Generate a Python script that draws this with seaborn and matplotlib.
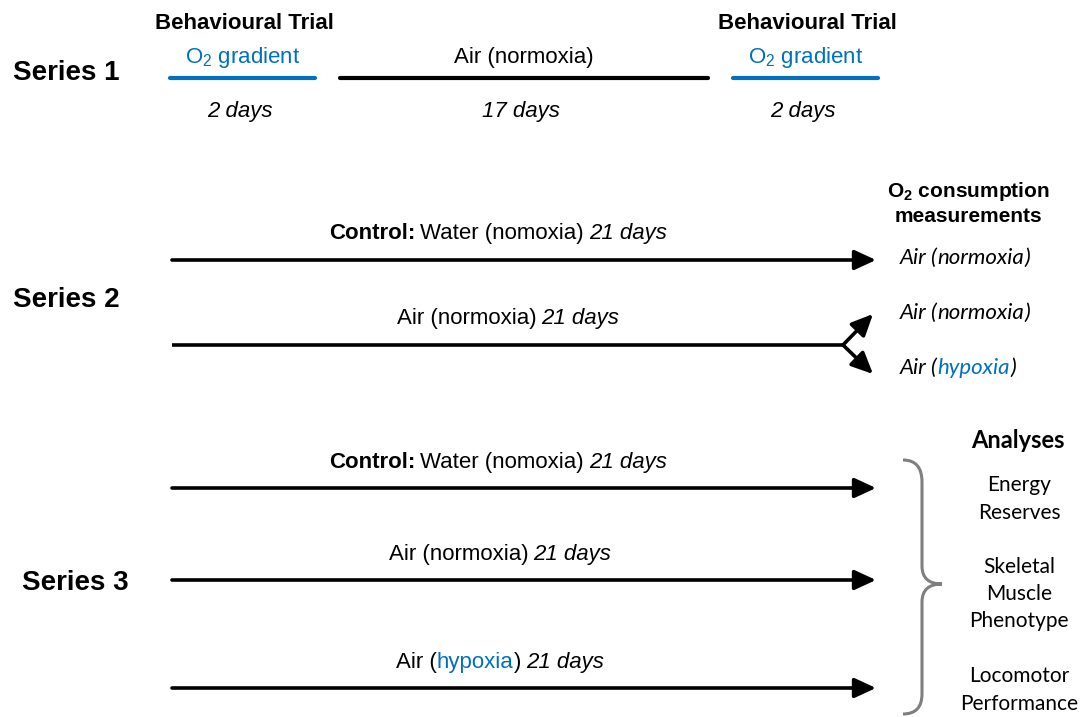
import matplotlib.pyplot as plt
import seaborn as sns
import pandas as pd
from matplotlib.path import Path
from matplotlib.patches import PathPatch

# ---- content of the diagram ----
series_labels = ["Series 1", "Series 2", "Series 3"]

s1_phases = ["O$_2$ gradient", "Air (normoxia)", "O$_2$ gradient"]
s1_days = [2, 17, 2]
s1_trial = [True, False, True]

s2_groups = [("Control:", "Water (nomoxia)", ""), ("", "Air (normoxia)", "")]
s2_days = [21, 21]
s2_outcomes = [("Air (", "normoxia", ")"), ("Air (", "normoxia", ")"), ("Air (", "hypoxia", ")")]

s3_groups = [("Control:", "Water (nomoxia)", ""), ("", "Air (normoxia)", ""), ("", "Air (", "hypoxia")]
s3_days = [21, 21, 21]
analyses = ["Energy\nReserves", "Skeletal\nMuscle\nPhenotype", "Locomotor\nPerformance"]

# ---- layout (pixel space) ----
BLUE = "#0070C0"
GREY = "#7f7f7f"
s1_x = [(170, 315), (340, 708), (733, 878)]
s1_y = 78
s2_y = [260, 345]
s2_out_y = [258, 313, 368]
s3_y = [488, 580, 688]
x0, x1 = 172, 876

sns.set_theme(style="white")
plt.rcParams["font.family"] = ["Liberation Sans", "DejaVu Sans"]
plt.rcParams["text.color"] = "black"
plt.rcParams["mathtext.fontset"] = "custom"
plt.rcParams["mathtext.rm"] = "Liberation Sans"
plt.rcParams["mathtext.bf"] = "Liberation Sans:bold"

fig = plt.figure(figsize=(10.82, 7.17), dpi=100)
ax = fig.add_axes([0, 0, 1, 1])
renderer = fig.canvas.get_renderer()


def rich(x, y, parts, size=16, ha="center"):
    """parts: list of (text, kwargs, gap_before)"""
    cur = x
    texts = []
    for s, kw, gap in parts:
        cur += gap
        t = ax.text(cur, y, s, ha="left", va="baseline", fontsize=size, **kw)
        cur += t.get_window_extent(renderer).width
        texts.append(t)
    total = cur - x
    if ha == "center":
        for t in texts:
            px, py = t.get_position()
            t.set_position((px - total / 2, py))


def arrow(xa, ya, xb, yb):
    ax.annotate("", xy=(xb, yb), xytext=(xa, ya),
                arrowprops=dict(arrowstyle="-|>,head_length=0.65,head_width=0.3",
                                lw=2.6, color="black", mutation_scale=20,
                                shrinkA=0, shrinkB=0))


# ---- Series 1 timeline ----
seg = pd.DataFrame({
    "x": [v for a, b in s1_x for v in (a, b)],
    "y": [s1_y] * 6,
    "seg": [i for i in range(3) for _ in range(2)],
})
sns.lineplot(data=seg, x="x", y="y", hue="seg", units="seg", estimator=None,
             palette=[BLUE, "black", BLUE], lw=3, legend=False, ax=ax)
ax.set_xlim(0, 1082)
ax.set_ylim(717, 0)
ax.axis("off")

# Series labels
for lab, yy, xx in zip(series_labels, [73, 300, 583], [66, 66, 75]):
    ax.text(xx, yy, lab, ha="center", va="center", fontsize=20, fontweight="bold")

for (a, b), phase, d, trial in zip(s1_x, s1_phases, s1_days, s1_trial):
    cx = (a + b) / 2
    ax.text(cx, 63, phase, ha="center", va="baseline", fontsize=16,
            color=BLUE if trial else "black")
    ax.text(cx - 3, 117, f"{d} days", ha="center", va="baseline", fontsize=16,
            style="italic")
    if trial:
        ax.text(cx + 2, 29, "Behavioural Trial", ha="center", va="baseline",
                fontsize=16, fontweight="bold")

# ---- Series 2 ----
ax.text(968, 197, r"O$_\mathbf{2}$ consumption", ha="center", va="baseline",
        fontsize=15, fontweight="bold")
ax.text(968, 222, "measurements", ha="center", va="baseline", fontsize=15,
        fontweight="bold")

for (bold, reg, _), d, yy in zip(s2_groups, s2_days, s2_y):
    parts = []
    if bold:
        parts.append((bold, dict(fontweight="bold"), 0))
    parts.append((reg, {}, 5 if bold else 0))
    parts.append((f"{d} days", dict(style="italic"), 5))
    rich(498 if bold else 508, yy - 21, parts)

arrow(x0, s2_y[0], x1, s2_y[0])
node = 843
ax.plot([x0, node], [s2_y[1], s2_y[1]], color="black", lw=2.6, solid_capstyle="butt")
arrow(node, s2_y[1], 873, 314)
arrow(node, s2_y[1], 873, 374)

for (pre, mid, post), yy in zip(s2_outcomes, s2_out_y):
    hyp = mid == "hypoxia"
    parts = [(pre, dict(family="Lato", style="italic"), 0),
             (mid, dict(family="Lato", style="italic", color=BLUE if hyp else "black"), 0),
             (post, dict(family="Lato", style="italic"), 0)]
    rich(900, yy + 6, parts, size=16, ha="left")

# ---- Series 3 ----
ax.text(1018, 448, "Analyses", ha="center", va="baseline", fontsize=17,
        fontweight="bold", family="Lato")

for (bold, reg, blue), d, yy in zip(s3_groups, s3_days, s3_y):
    parts = []
    if bold:
        parts.append((bold, dict(fontweight="bold"), 0))
    parts.append((reg, {}, 5 if bold else 0))
    if blue:
        parts.append((blue, dict(color=BLUE), 0))
        parts.append((")", {}, 0))
    parts.append((f"{d} days", dict(style="italic"), 5))
    rich(498 if bold else 500, yy - 20, parts)
    arrow(x0, yy, x1, yy)

for txt, yy in zip(analyses, [499, 594, 690]):
    ax.text(1019, yy, txt, ha="center", va="center", fontsize=15,
            family="Lato", linespacing=1.45)

# curly brace
verts = [(903, 460), (922, 460), (922, 482),
         (922, 566),
         (922, 584), (942, 584),
         (922, 584), (922, 602),
         (922, 694),
         (922, 714), (903, 714)]
codes = [Path.MOVETO, Path.CURVE3, Path.CURVE3,
         Path.LINETO,
         Path.CURVE3, Path.CURVE3,
         Path.CURVE3, Path.CURVE3,
         Path.LINETO,
         Path.CURVE3, Path.CURVE3]
ax.add_patch(PathPatch(Path(verts, codes), fill=False, edgecolor=GREY, lw=2.2))

fig.savefig("out.png", dpi=100)
